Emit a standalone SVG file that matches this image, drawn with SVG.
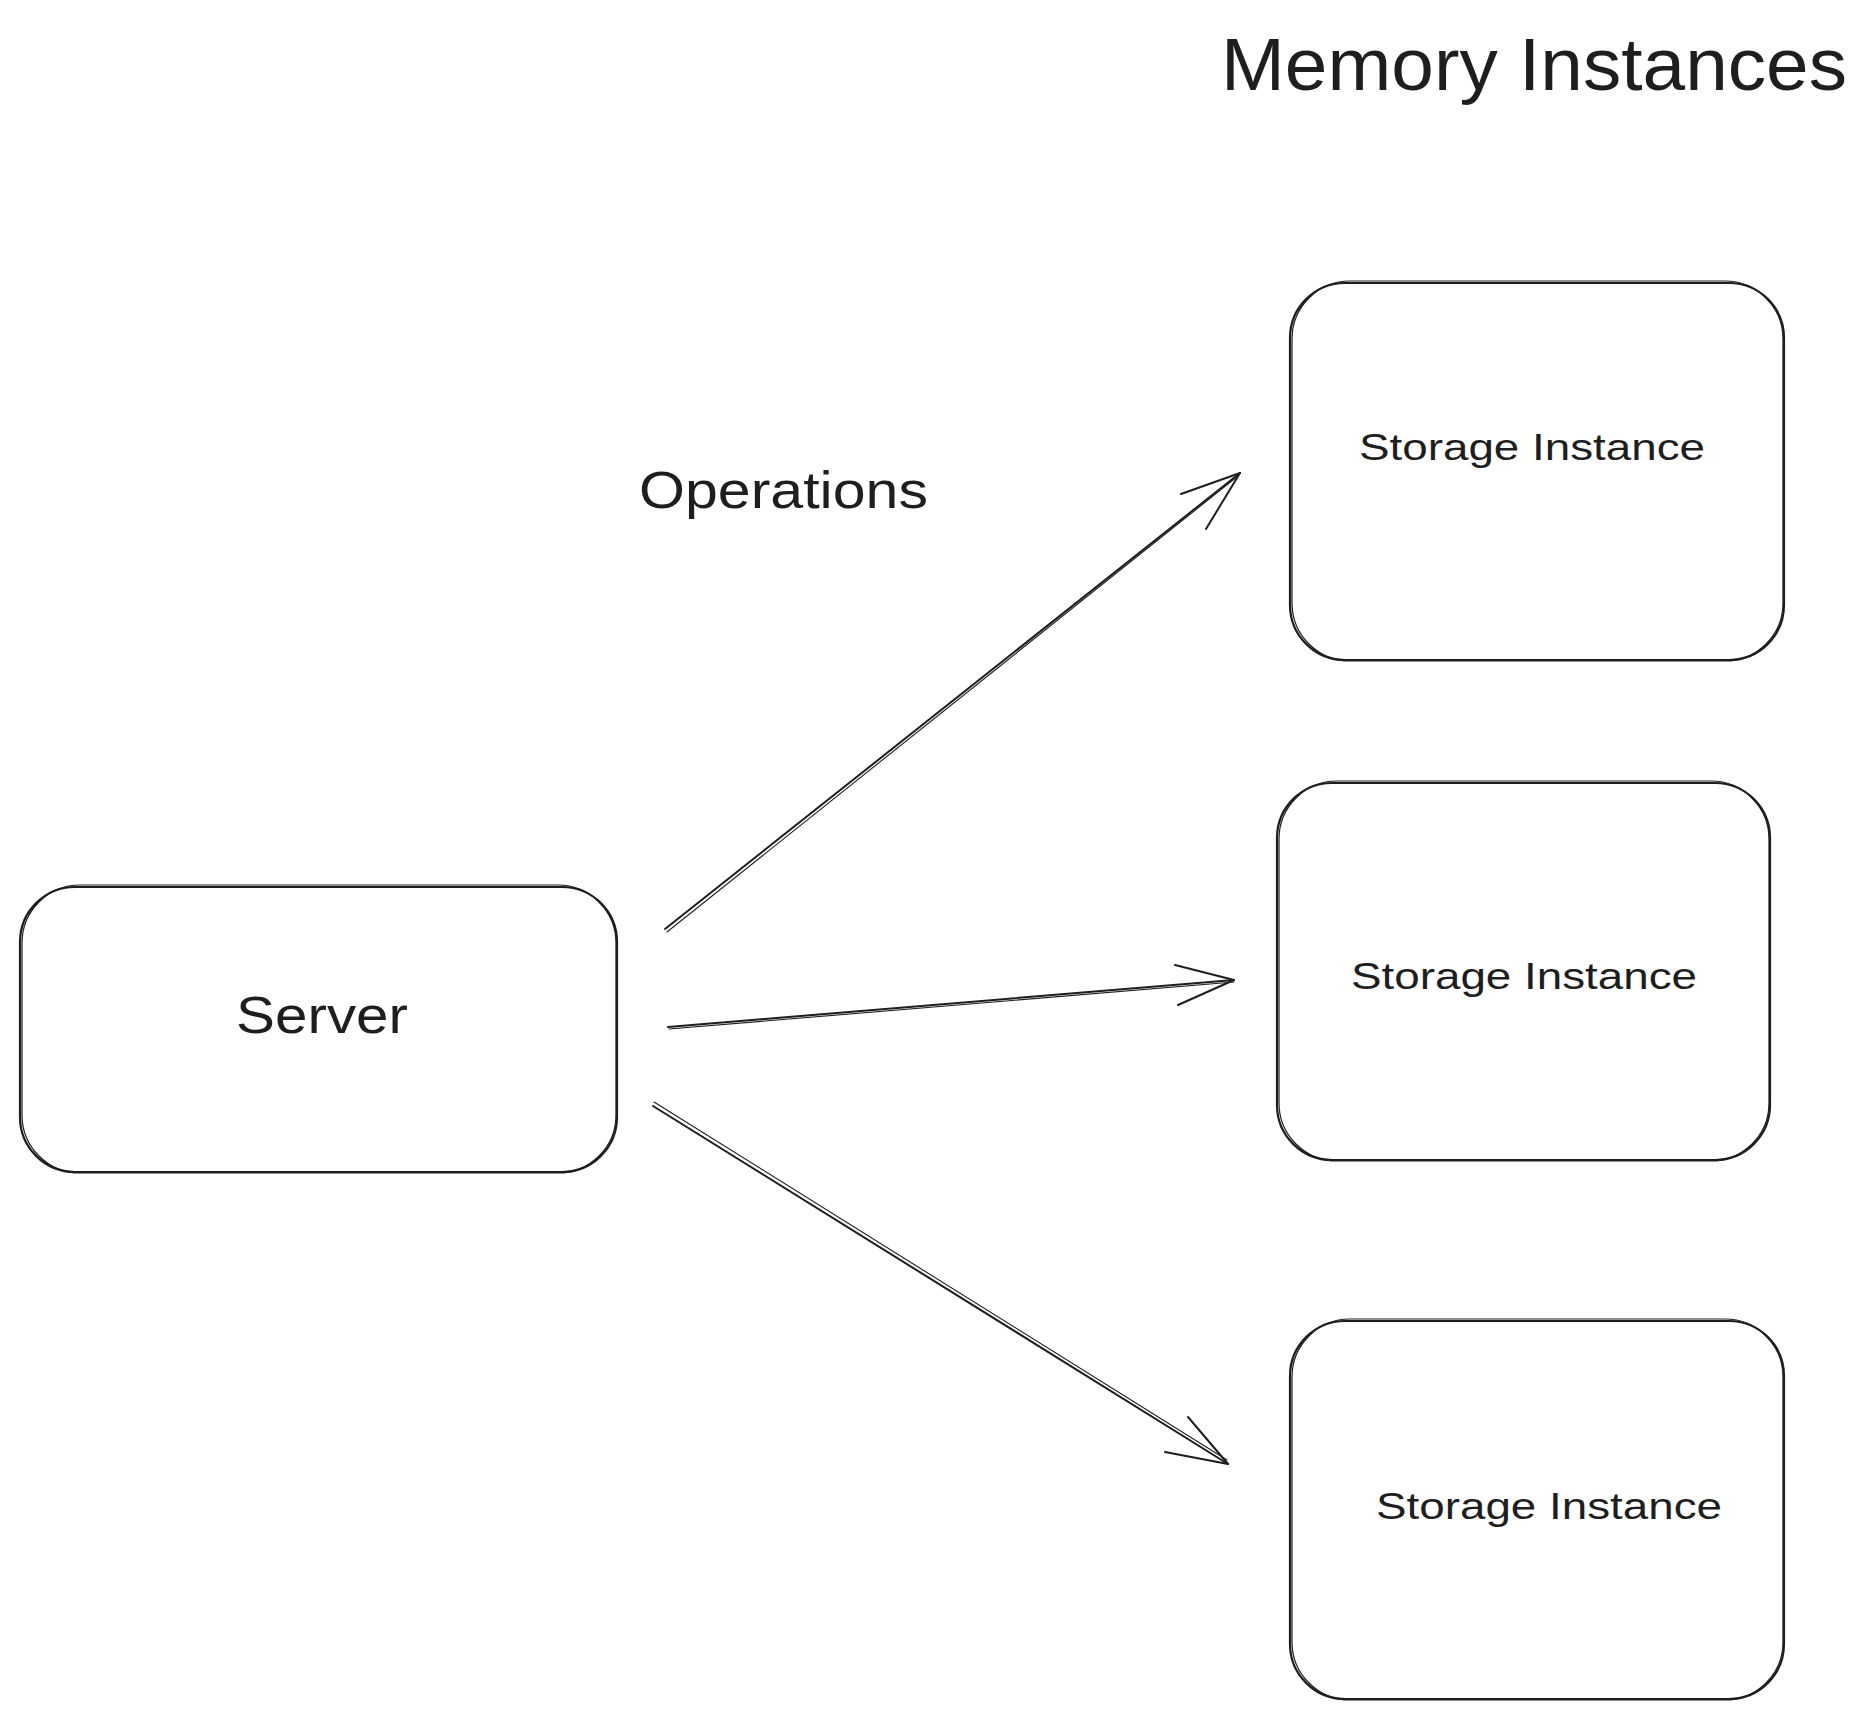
<svg xmlns="http://www.w3.org/2000/svg" width="1869" height="1719" viewBox="0 0 1869 1719">
<style>
.bx{fill:none;stroke:#1e1e1e;stroke-width:2.2;stroke-linecap:round}
.bx2{fill:none;stroke:#1e1e1e;stroke-width:1.2}
.ln{fill:none;stroke:#1e1e1e;stroke-width:2;stroke-linecap:round;stroke-linejoin:round}
.ln2{fill:none;stroke:#1e1e1e;stroke-width:1.1;stroke-linecap:round}
.t{font-family:"Liberation Sans","DejaVu Sans",sans-serif;fill:#1e1e1e}
</style>
<rect width="1869" height="1719" fill="#ffffff"/>
<g id="title">
<text class="t" x="1221" y="90" font-size="74" textLength="626" lengthAdjust="spacingAndGlyphs">Memory Instances</text>
</g>
<g id="operations-label">
<text class="t" x="639" y="508" font-size="52" textLength="289" lengthAdjust="spacingAndGlyphs">Operations</text>
</g>
<g id="server">
<rect class="bx" x="20" y="887" width="597" height="285" rx="55"/>
<rect class="bx2" x="22" y="885" width="594" height="288" rx="58"/>
<text class="t" x="236" y="1033" font-size="52" textLength="172" lengthAdjust="spacingAndGlyphs">Server</text>
</g>
<g id="storage-1">
<rect class="bx" x="1290" y="283" width="494" height="377" rx="55"/>
<rect class="bx2" x="1292" y="281" width="491" height="380" rx="58"/>
<text class="t" x="1359" y="460" font-size="36" textLength="346" lengthAdjust="spacingAndGlyphs">Storage Instance</text>
</g>
<g id="storage-2">
<rect class="bx" x="1277" y="783" width="493" height="377" rx="55"/>
<rect class="bx2" x="1279" y="781" width="490" height="380" rx="58"/>
<text class="t" x="1351" y="989" font-size="36" textLength="346" lengthAdjust="spacingAndGlyphs">Storage Instance</text>
</g>
<g id="storage-3">
<rect class="bx" x="1290" y="1321" width="494" height="378" rx="55"/>
<rect class="bx2" x="1292" y="1319" width="491" height="381" rx="58"/>
<text class="t" x="1376" y="1519" font-size="36" textLength="346" lengthAdjust="spacingAndGlyphs">Storage Instance</text>
</g>
<g id="connectors">
<path class="ln" d="M665 929 L1240 473"/>
<path class="ln2" d="M667 932 L1238 476"/>
<path class="ln" d="M1181 494 L1240 473 L1206 529"/>
<path class="ln" d="M668 1027 L1234 980"/>
<path class="ln2" d="M669 1029 L1234 982"/>
<path class="ln" d="M1175 965 L1234 980 L1178 1005"/>
<path class="ln" d="M653 1106 L1228 1464"/>
<path class="ln2" d="M654 1102 L1227 1460"/>
<path class="ln" d="M1165 1452 L1228 1464 L1188 1417"/>
</g>
</svg>
